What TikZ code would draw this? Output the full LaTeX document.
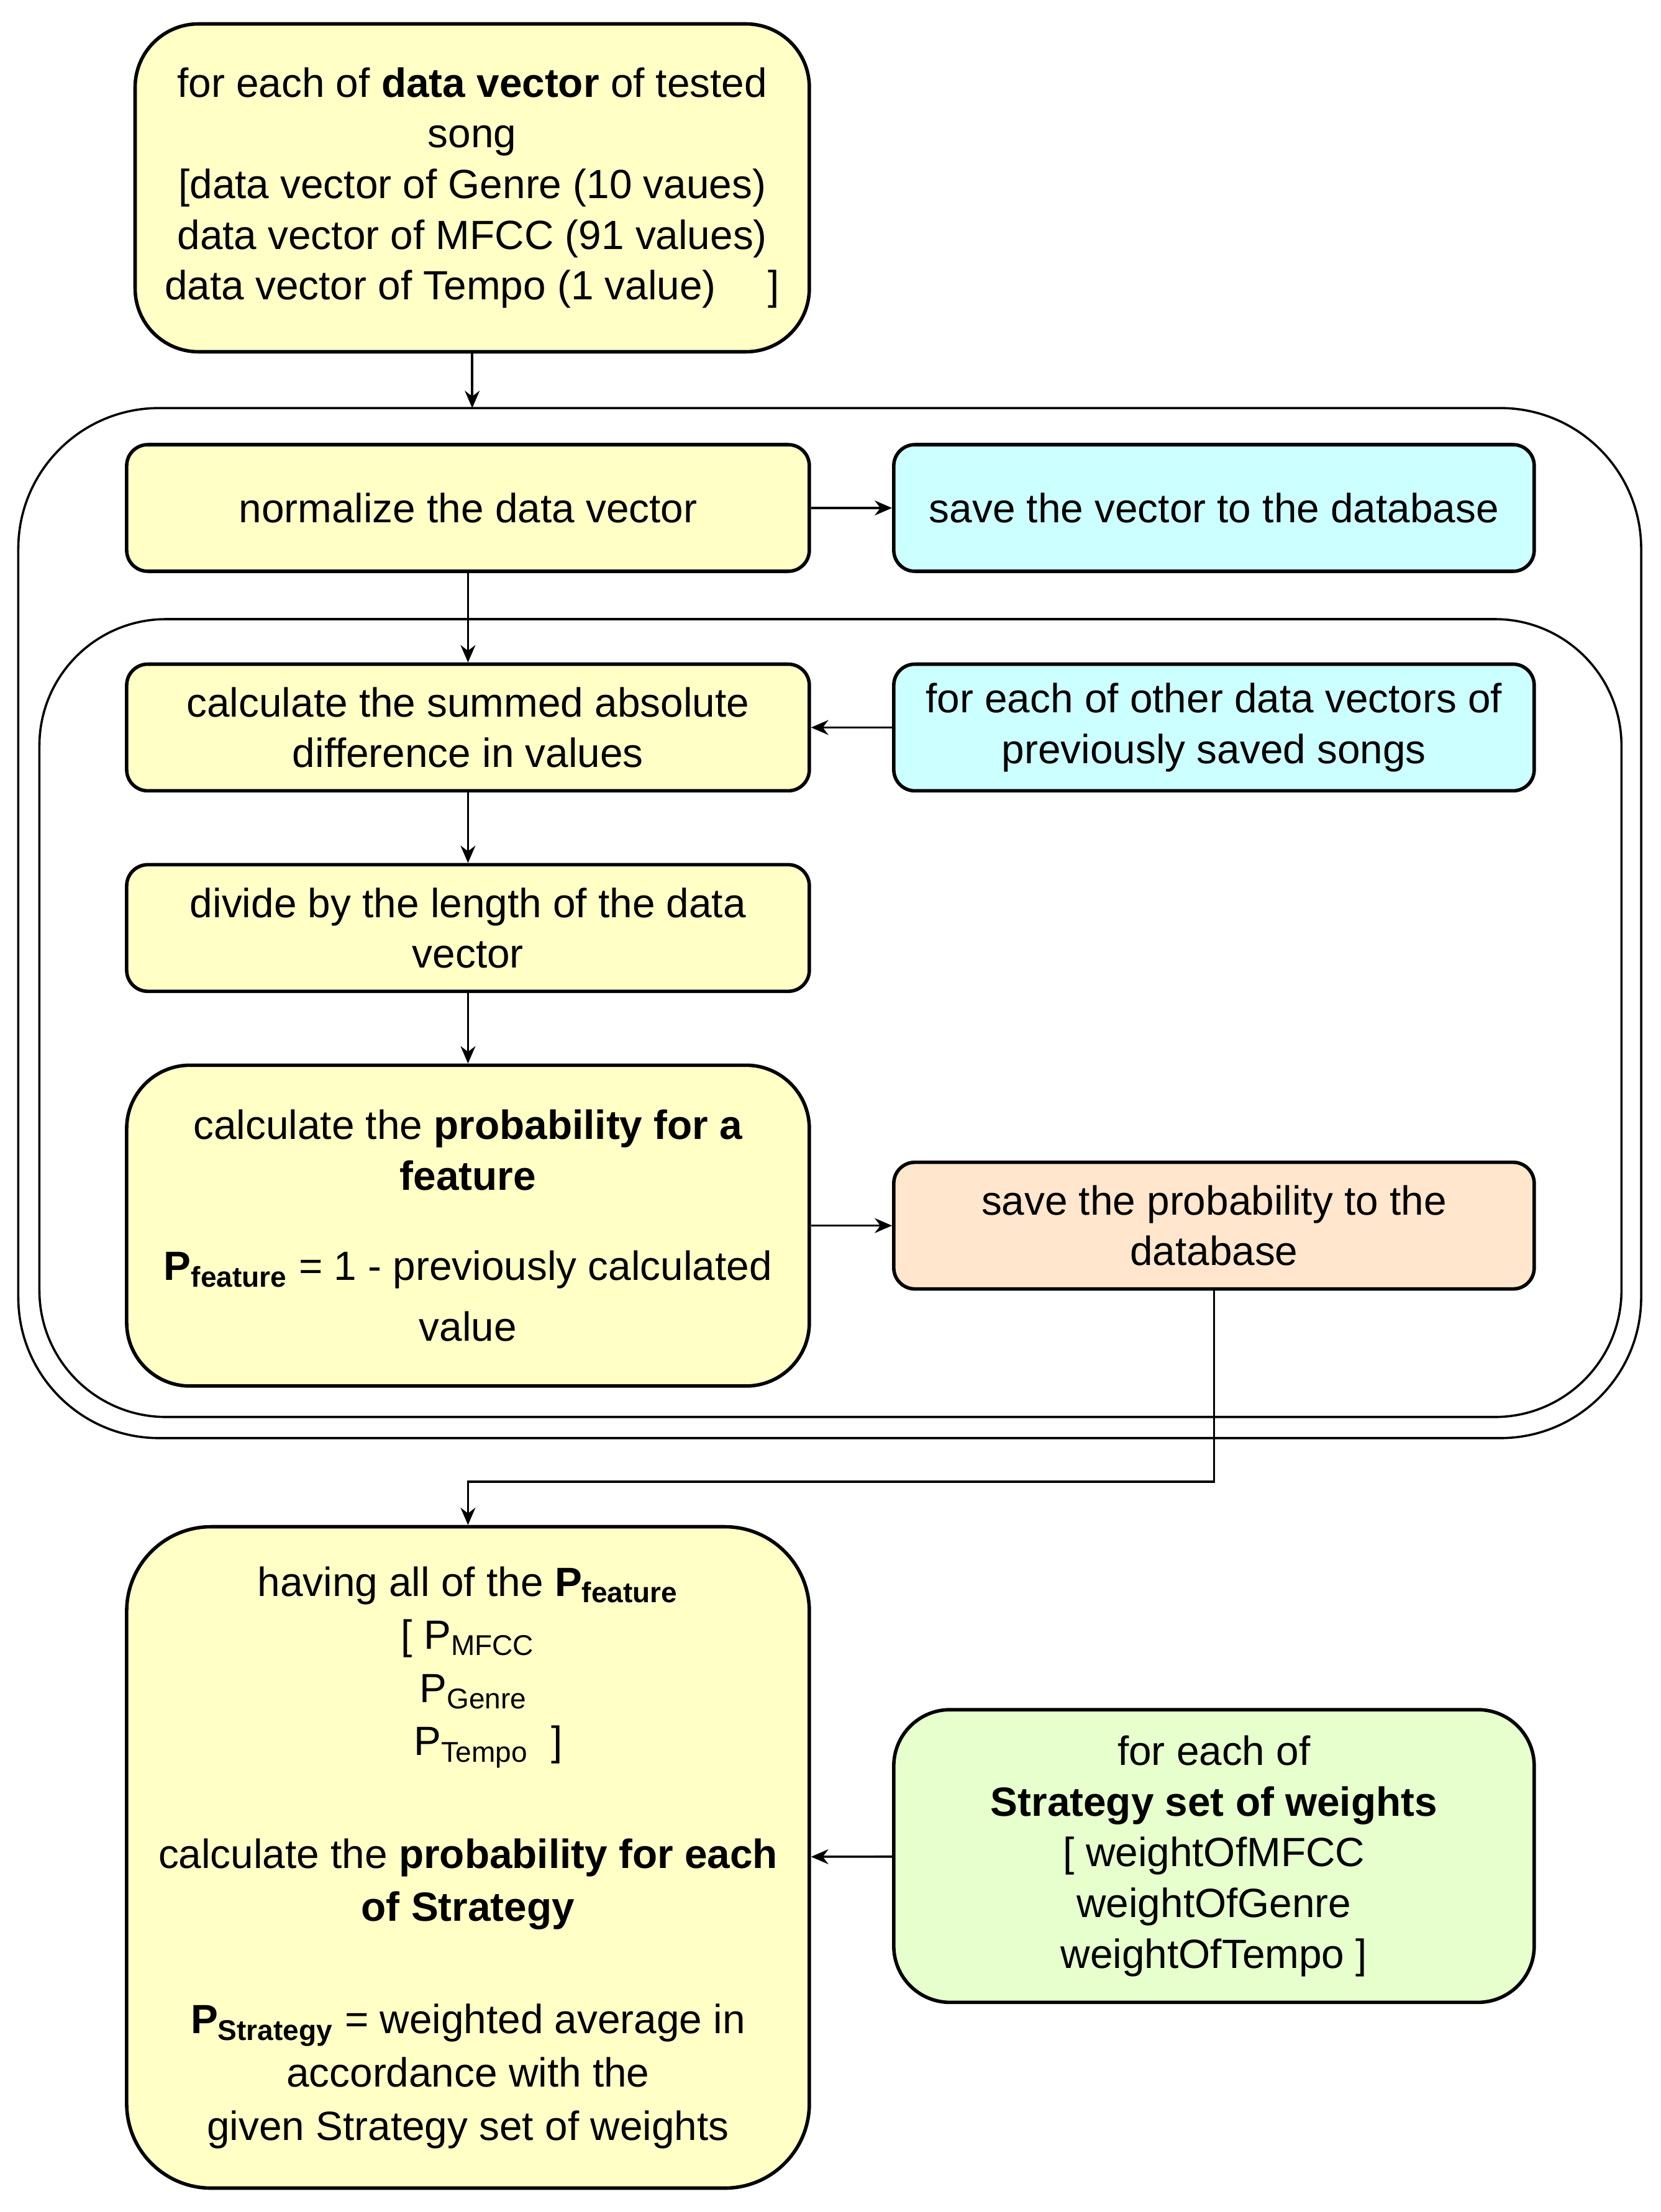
\documentclass[tikz,border=0pt]{standalone}
\usepackage{fontspec}
\setmainfont{Liberation Sans}
\usetikzlibrary{arrows.meta}
\definecolor{boxyellow}{HTML}{FFFFC6}
\definecolor{boxcyan}{HTML}{CCFFFF}
\definecolor{boxpeach}{HTML}{FFE6CC}
\definecolor{boxgreen}{HTML}{E6FFCC}
\tikzset{
  stage/.style={draw, line width=1.4pt, rounded corners=0.3cm, align=center,
    font=\fontsize{16.5}{20.5}\selectfont, inner sep=2pt},
  flow/.style={-{Stealth[length=7pt,width=6pt]}, line width=0.9pt},
  frame/.style={draw, line width=0.9pt}
}
\begin{document}
\begin{tikzpicture}
\useasboundingbox (0,0) rectangle (23.6,-31.44);
% containers
\draw[frame, rounded corners=2cm] (0.26,-5.8) rectangle (23.32,-20.44);
\draw[frame, rounded corners=1.8cm] (0.56,-8.8) rectangle (23.04,-20.14);
\coordinate (outtop) at (6.71,-5.8);
% stages
\node[stage, fill=boxyellow, rounded corners=0.9cm, minimum width=9.58cm, minimum height=4.66cm] (input) at (6.71,-2.67)
  {for each of \textbf{data vector} of tested\\song\\{[}data vector of Genre (10 vaues)\\ data vector of MFCC (91 values)\\ data vector of Tempo (1 value) \quad]};
\node[stage, fill=boxyellow, minimum width=9.7cm, minimum height=1.8cm] (norm) at (6.65,-7.22) {normalize the data vector};
\node[stage, fill=boxcyan, minimum width=9.1cm, minimum height=1.8cm] (savevec) at (17.25,-7.22) {save the vector to the database};
\node[stage, fill=boxyellow, minimum width=9.7cm, minimum height=1.8cm] (diff) at (6.65,-10.34) {calculate the summed absolute\\difference in values};
\node[stage, fill=boxcyan, minimum width=9.1cm, minimum height=1.8cm] (others) at (17.25,-10.34) {for each of other data vectors of\\previously saved songs};
\node[stage, fill=boxyellow, minimum width=9.7cm, minimum height=1.8cm] (divide) at (6.65,-13.19) {divide by the length of the data\\vector};
\node[stage, fill=boxyellow, rounded corners=0.9cm, minimum width=9.7cm, minimum height=4.56cm] (prob) at (6.65,-17.42)
  {calculate the \textbf{probability for a}\\\textbf{feature}\\[16pt]\textbf{P\textsubscript{feature}} = 1 - previously calculated\\[4pt]value};
\node[stage, fill=boxpeach, minimum width=9.1cm, minimum height=1.8cm] (saveprob) at (17.25,-17.42) {save the probability to the\\database};
\node[stage, fill=boxyellow, rounded corners=1.2cm, minimum width=9.7cm, minimum height=9.4cm,
  font=\fontsize{16.5}{21.5}\selectfont] (strat) at (6.65,-26.4)
  {having all of the \textbf{P\textsubscript{feature}}\\{[} P\textsubscript{MFCC}\quad\ \\ \ P\textsubscript{Genre}\\ \quad P\textsubscript{Tempo} \ ]\\[24pt]
   calculate the \textbf{probability for each}\\\textbf{of Strategy}\\[24pt]\textbf{P\textsubscript{Strategy}} = weighted average in\\accordance with the\\given Strategy set of weights};
\node[stage, fill=boxgreen, rounded corners=0.8cm, minimum width=9.1cm, minimum height=4.16cm] (weights) at (17.25,-26.38)
  {for each of\\\textbf{Strategy set of weights}\\{[} weightOfMFCC\\weightOfGenre\\weightOfTempo ]};
% connectors
\draw[flow] (input) -- (outtop);
\draw[flow] (norm) -- (savevec);
\draw[flow] (norm) -- (diff);
\draw[flow] (others) -- (diff);
\draw[flow] (diff) -- (divide);
\draw[flow] (divide) -- (prob);
\draw[flow] (prob) -- (saveprob);
\draw[flow] (saveprob.south) |- (6.65,-21.06) -- (strat.north);
\draw[flow] (weights) -- (strat);
\end{tikzpicture}
\end{document}
